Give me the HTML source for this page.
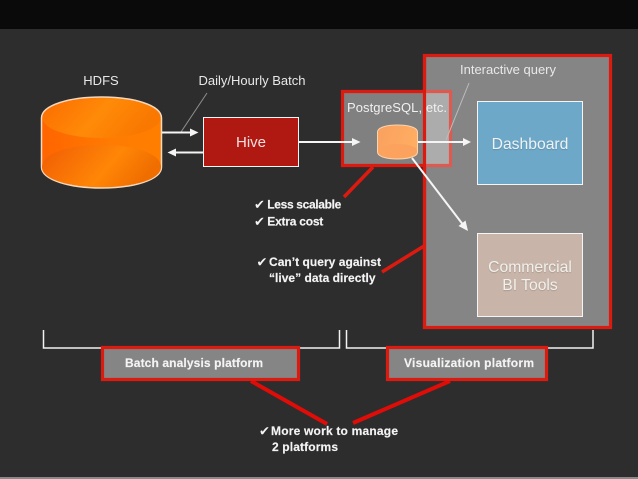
<!DOCTYPE html>
<html><head><meta charset="utf-8"><style>
html,body{margin:0;padding:0;background:#2d2d2d}
svg{display:block}
text{font-family:"Liberation Sans",sans-serif}
.b{font-weight:bold;font-size:12px;fill:#f4f4f4;stroke:#f4f4f4;stroke-width:.15px}
.c{font-family:"DejaVu Sans",sans-serif;font-size:13px;fill:#f4f4f4}
.n{font-size:13px;fill:#e8e8e8}
.s{fill:#f0f0ec;font-size:15.700px;text-shadow:0 1px 1px rgba(0,0,0,.15)}
</style></head><body>
<svg width="638" height="479" viewBox="0 0 638 479" xmlns="http://www.w3.org/2000/svg">
<defs>
<linearGradient id="o" x1="0" y1="0" x2="1" y2="0.3"><stop offset="0" stop-color="#fb6c00"/><stop offset=".55" stop-color="#ff8a08"/><stop offset="1" stop-color="#f97800"/></linearGradient>
<linearGradient id="b" x1="0" y1="0" x2="1" y2="0.3"><stop offset="0" stop-color="#f05c04"/><stop offset=".65" stop-color="#ff8606"/><stop offset="1" stop-color="#f06e00"/></linearGradient>
<linearGradient id="o2" x1="0" y1="0" x2="1" y2="0"><stop offset="0" stop-color="#ff6400"/><stop offset=".6" stop-color="#ff7c02"/><stop offset="1" stop-color="#ff7e00"/></linearGradient>
<linearGradient id="s" x1="0" y1="0" x2="1" y2="0.3"><stop offset="0" stop-color="#f9a060"/><stop offset="1" stop-color="#ffad62"/></linearGradient>
</defs>
<rect width="638" height="479" fill="#2d2d2d"/>
<rect width="638" height="29" fill="#0a0a0a"/>
<rect y="477" width="638" height="2" fill="#8a8a8a"/>

<!-- Big visualization panel -->
<rect x="424.500" y="55.500" width="186" height="272" fill="#858585" stroke="#dd1a10" stroke-width="3.200"/>

<!-- HDFS cylinder -->
<path d="M41.500 118 C41.500 105 70 97 101.500 97 C133 97 161.500 105 161.500 118 L161.500 167 C161.500 180 133 188 101.500 188 C70 188 41.500 180 41.500 167 Z" fill="url(#o2)" stroke="#f5d8bd" stroke-width="1.500"/>
<ellipse cx="101.500" cy="118" rx="59" ry="20" fill="url(#o)"/>
<path d="M42 167 C42 153 70 145 101.500 145 C133 145 161 153 161 167 C161 180 133 187 101.500 187 C70 187 42 180 42 167 Z" fill="url(#b)"/>
<text x="101" y="85" class="n" text-anchor="middle">HDFS</text>
<text x="252" y="85" class="n" text-anchor="middle" textLength="107">Daily/Hourly Batch</text>
<line x1="207" y1="93" x2="181" y2="132" stroke="#8f8f8f" stroke-width="1"/>

<!-- Arrows HDFS/Hive -->
<line x1="162" y1="132.500" x2="192" y2="132.500" stroke="#f5f5f5" stroke-width="2"/>
<path d="M198.500 132.500 L190 128.500 L190 136.500 Z" fill="#f5f5f5"/>
<line x1="203" y1="152.500" x2="174" y2="152.500" stroke="#f5f5f5" stroke-width="2"/>
<path d="M167.500 152.500 L176 148.500 L176 156.500 Z" fill="#f5f5f5"/>

<!-- Hive -->
<rect x="203.500" y="117.500" width="95" height="49" fill="#b01812" stroke="#f5f5f5" stroke-width="1"/>
<text x="251" y="147" fill="#f0e0e0" text-anchor="middle" style="font-size:15px">Hive</text>

<!-- Postgres box -->
<rect x="342" y="92" width="109" height="74" fill="#808080"/>
<rect x="425" y="92" width="26" height="74" fill="#acacac"/>
<path d="M425 91.500 H450.500 V165.500 H425" fill="none" stroke="#dc5a50" stroke-width="3.200"/>
<path d="M425 91.500 H342.500 V165.500 H425" fill="none" stroke="#dd1a10" stroke-width="3.200"/>
<line x1="424.500" y1="54" x2="424.500" y2="329" stroke="#dd1a10" stroke-width="3.200"/>
<text x="397" y="112" class="n" text-anchor="middle" textLength="100" style="fill:#f0f0f0">PostgreSQL, etc.</text>

<!-- Hive to PG arrow -->
<line x1="299" y1="142" x2="354" y2="142" stroke="#f5f5f5" stroke-width="2"/>
<path d="M360.500 142 L352 138 L352 146 Z" fill="#f5f5f5"/>

<!-- small cylinder -->
<path d="M377.500 132 C377.500 127 388 125 397.500 125 C407 125 417.500 127 417.500 132 L417.500 152 C417.500 157 407 159 397.500 159 C388 159 377.500 157 377.500 152 Z" fill="url(#s)" stroke="#fbd3ad" stroke-width="1"/>
<path d="M378 151 C378 146 388 144 397.500 144 C407 144 417 146 417 151 C417 156 407 158 397.500 158 C388 158 378 156 378 151 Z" fill="#fba25e"/>

<!-- PG arrows -->
<line x1="418" y1="142" x2="465" y2="142" stroke="#f5f5f5" stroke-width="2"/>
<path d="M471 142 L463 138 L463 146 Z" fill="#f5f5f5"/>
<line x1="412" y1="158" x2="464" y2="226" stroke="#f5f5f5" stroke-width="2"/>
<path d="M468 231 L458.500 226 L465.500 220.500 Z" fill="#f5f5f5"/>
<line x1="469" y1="83" x2="446" y2="140" stroke="#bdbdbd" stroke-width="1"/>

<text x="508" y="74" class="n" text-anchor="middle" textLength="96">Interactive query</text>

<!-- Dashboard -->
<rect x="477.500" y="101.500" width="105" height="83" fill="#6ea8c8" stroke="#f5f5f5" stroke-width="1"/>
<text x="530" y="149" text-anchor="middle" class="s" style="fill:#eef3f6">Dashboard</text>

<!-- Commercial -->
<rect x="477.500" y="233.500" width="105" height="83" fill="#c8b4a8" stroke="#f5f5f5" stroke-width="1"/>
<text x="530" y="272" text-anchor="middle" class="s">Commercial</text>
<text x="530" y="290" text-anchor="middle" class="s">BI Tools</text>

<!-- Red callouts -->
<line x1="373" y1="167" x2="344" y2="197" stroke="#dd1a10" stroke-width="3.500"/>
<line x1="424" y1="246" x2="382" y2="272" stroke="#dd1a10" stroke-width="3.500"/>
<line x1="251" y1="381" x2="327" y2="424" stroke="#e00c08" stroke-width="4"/>
<line x1="450" y1="381" x2="353" y2="423" stroke="#e00c08" stroke-width="4"/>

<!-- Brackets -->
<path d="M43.500 330 V348 H339.500 V330" fill="none" stroke="#f2f2f2" stroke-width="1.500"/>
<path d="M346.500 330 V348 H593 V330" fill="none" stroke="#f2f2f2" stroke-width="1.500"/>

<!-- Platform boxes -->
<rect x="102.500" y="347.500" width="196" height="32" fill="#858585" stroke="#dd1a10" stroke-width="3.200"/>
<rect x="387.500" y="347.500" width="159" height="32" fill="#858585" stroke="#dd1a10" stroke-width="3.200"/>
<text x="125" y="367" class="b" textLength="138">Batch analysis platform</text>
<text x="404" y="367" class="b" textLength="130">Visualization platform</text>

<!-- Check lists -->
<text x="254" y="209" class="c">✔</text><text x="267.300" y="208.500" class="b" textLength="74">Less scalable</text>
<text x="254" y="226" class="c">✔</text><text x="267.300" y="225.500" class="b" textLength="56">Extra cost</text>
<text x="256.500" y="266.500" class="c">✔</text><text x="269" y="266" class="b" textLength="112">Can’t query against</text>
<text x="269" y="282" class="b" textLength="106.500">“live” data directly</text>
<text x="259" y="435.500" class="c">✔</text><text x="271" y="435" class="b" textLength="127">More work to manage</text>
<text x="272" y="451" class="b" textLength="66">2 platforms</text>
</svg>
</body></html>
